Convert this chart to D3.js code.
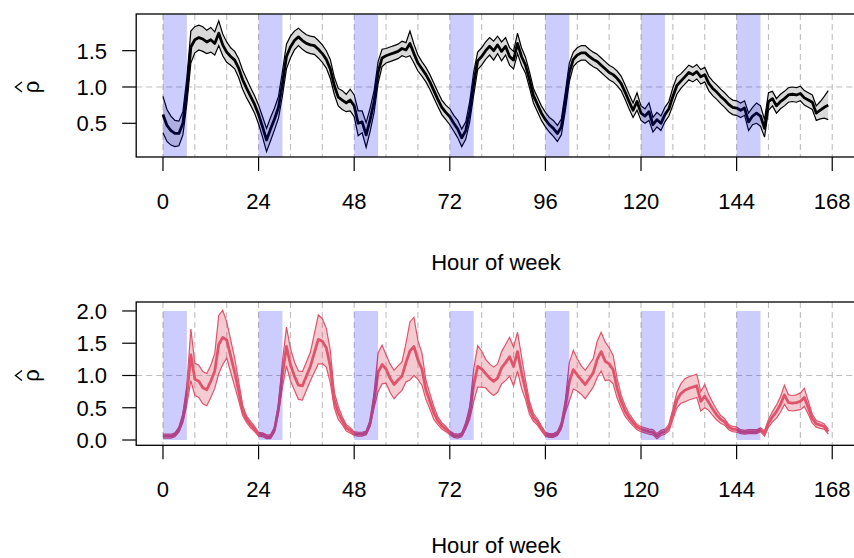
<!DOCTYPE html>
<html>
<head>
    <meta charset="utf-8">
    <title>Hour of week</title>
    <script src="https://d3js.org/d3.v7.min.js"></script>
    <style>
        body { margin: 0; background: #ffffff; }
        text { font-family: "Liberation Sans", Arial, sans-serif; fill: #000; }
    </style>
</head>
<body>
<div id="chart"></div>
<script>
    // ---- data (hour of week 0..167) ----
    const hours = d3.range(0, 168);
    const xTicks = [0, 24, 48, 72, 96, 120, 144, 168];
    const gridHours = d3.range(0, 169, 8);
    const nightStarts = [0, 24, 48, 72, 96, 120, 144];
    const nightLength = 6;
    const topTicks = [0.5, 1.0, 1.5];
    const bottomTicks = [0.0, 0.5, 1.0, 1.5, 2.0];

    // top panel: estimate and half width of the band
    const topMean = [
        0.62,0.47,0.40,0.36,0.36,0.50,0.95,1.55,1.65,1.68,1.66,1.62,
        1.65,1.60,1.74,1.58,1.48,1.42,1.37,1.26,1.10,0.98,0.87,0.76,
        0.62,0.45,0.27,0.42,0.56,0.72,1.05,1.42,1.55,1.64,1.69,1.64,
        1.60,1.58,1.57,1.52,1.46,1.38,1.25,1.02,0.86,0.82,0.78,0.82,
        0.74,0.50,0.52,0.34,0.55,0.80,1.20,1.40,1.43,1.45,1.47,1.49,
        1.53,1.51,1.60,1.46,1.33,1.25,1.17,1.07,0.95,0.83,0.72,0.65,
        0.59,0.50,0.42,0.30,0.40,0.66,1.05,1.36,1.42,1.50,1.56,1.50,
        1.58,1.49,1.56,1.42,1.37,1.60,1.42,1.30,1.10,0.88,0.76,0.64,
        0.55,0.48,0.43,0.36,0.45,0.80,1.20,1.38,1.44,1.47,1.47,1.42,
        1.38,1.35,1.30,1.25,1.20,1.17,1.12,1.05,0.93,0.80,0.68,0.80,
        0.64,0.60,0.66,0.48,0.55,0.50,0.62,0.70,0.87,1.02,1.08,1.14,
        1.20,1.17,1.21,1.14,1.17,1.05,0.98,0.93,0.87,0.82,0.76,0.72,
        0.71,0.68,0.71,0.52,0.60,0.64,0.60,0.43,0.80,0.84,0.74,0.80,
        0.84,0.89,0.90,0.89,0.91,0.85,0.82,0.79,0.64,0.68,0.72,0.75
    ];
    const topHalf = [
        0.25,0.22,0.20,0.18,0.17,0.16,0.18,0.22,0.18,0.17,0.17,0.16,
        0.17,0.16,0.17,0.15,0.14,0.12,0.12,0.13,0.13,0.13,0.12,0.12,
        0.13,0.14,0.16,0.16,0.15,0.15,0.17,0.17,0.15,0.13,0.12,0.12,
        0.12,0.12,0.12,0.12,0.12,0.12,0.13,0.12,0.12,0.13,0.12,0.15,
        0.15,0.17,0.15,0.17,0.16,0.15,0.15,0.12,0.10,0.10,0.10,0.10,
        0.10,0.10,0.17,0.13,0.11,0.10,0.10,0.10,0.10,0.10,0.10,0.10,
        0.11,0.11,0.12,0.12,0.12,0.14,0.16,0.12,0.12,0.12,0.12,0.13,
        0.12,0.13,0.12,0.12,0.12,0.14,0.12,0.11,0.11,0.10,0.10,0.10,
        0.10,0.10,0.11,0.11,0.11,0.13,0.13,0.10,0.10,0.10,0.10,0.10,
        0.10,0.10,0.10,0.10,0.10,0.10,0.10,0.10,0.10,0.10,0.10,0.12,
        0.10,0.10,0.12,0.10,0.10,0.10,0.10,0.10,0.12,0.12,0.10,0.10,
        0.10,0.10,0.10,0.10,0.10,0.10,0.10,0.10,0.10,0.10,0.10,0.10,
        0.10,0.10,0.10,0.12,0.12,0.14,0.14,0.12,0.12,0.10,0.10,0.10,
        0.10,0.10,0.10,0.10,0.10,0.10,0.10,0.10,0.10,0.12,0.15,0.20
    ];

    // bottom panel: estimate and half width of the band
    const bottomMean = [
        0.06,0.06,0.06,0.08,0.16,0.34,0.70,1.32,0.94,0.91,0.81,0.78,
        0.91,1.07,1.48,1.59,1.55,1.30,1.05,0.76,0.46,0.32,0.24,0.17,
        0.09,0.08,0.05,0.05,0.16,0.49,1.02,1.45,1.17,0.99,0.85,0.84,
        0.99,1.14,1.35,1.56,1.53,1.43,1.14,0.62,0.42,0.30,0.19,0.15,
        0.10,0.09,0.09,0.11,0.26,0.62,1.05,1.17,1.10,0.96,0.86,0.93,
        0.99,1.20,1.38,1.45,1.24,1.10,0.78,0.60,0.42,0.30,0.22,0.17,
        0.11,0.07,0.06,0.08,0.22,0.42,0.85,1.14,1.10,1.03,0.96,0.91,
        0.96,1.12,1.20,1.29,1.14,1.37,1.05,0.78,0.50,0.35,0.28,0.18,
        0.09,0.07,0.07,0.10,0.22,0.52,0.90,1.09,1.01,0.93,0.86,0.95,
        1.04,1.25,1.37,1.22,1.18,1.09,0.80,0.60,0.45,0.35,0.27,0.20,
        0.17,0.15,0.13,0.12,0.06,0.11,0.13,0.19,0.40,0.62,0.72,0.77,
        0.80,0.82,0.84,0.60,0.68,0.58,0.48,0.39,0.32,0.28,0.20,0.17,
        0.16,0.13,0.12,0.13,0.13,0.13,0.16,0.10,0.26,0.36,0.44,0.55,
        0.70,0.58,0.57,0.58,0.60,0.66,0.50,0.33,0.25,0.23,0.21,0.13
    ];
    const bottomHalf = [
        0.03,0.03,0.03,0.03,0.04,0.07,0.15,0.40,0.25,0.25,0.25,0.25,
        0.25,0.27,0.45,0.42,0.28,0.25,0.22,0.15,0.08,0.05,0.05,0.04,
        0.03,0.03,0.03,0.03,0.04,0.08,0.20,0.30,0.25,0.22,0.22,0.22,
        0.22,0.22,0.30,0.38,0.35,0.30,0.25,0.12,0.10,0.06,0.05,0.04,
        0.03,0.03,0.03,0.03,0.05,0.12,0.30,0.30,0.22,0.22,0.22,0.22,
        0.22,0.30,0.45,0.45,0.30,0.25,0.15,0.12,0.10,0.06,0.05,0.04,
        0.03,0.03,0.03,0.03,0.05,0.10,0.25,0.32,0.28,0.22,0.22,0.22,
        0.22,0.25,0.28,0.30,0.30,0.30,0.25,0.15,0.10,0.06,0.05,0.04,
        0.03,0.03,0.03,0.03,0.05,0.10,0.30,0.30,0.25,0.22,0.22,0.22,
        0.22,0.28,0.30,0.30,0.25,0.22,0.15,0.10,0.08,0.06,0.05,0.04,
        0.04,0.04,0.04,0.04,0.04,0.04,0.04,0.05,0.08,0.12,0.15,0.18,
        0.18,0.18,0.18,0.15,0.18,0.12,0.10,0.08,0.06,0.05,0.04,0.04,
        0.04,0.03,0.03,0.03,0.03,0.03,0.03,0.04,0.06,0.08,0.10,0.12,
        0.15,0.12,0.12,0.12,0.13,0.14,0.10,0.07,0.05,0.05,0.04,0.04
    ];

    // ---- layout ----
    const width = 854, height = 558;
    const fontSize = 22;

    const svg = d3.select("#chart").append("svg")
        .attr("width", width)
        .attr("height", height);

    // x axis spans the week with R-style 4% padding
    const x = d3.scaleLinear().domain([-6.72, 174.72]).range([136.2, 859]);

    const panels = [
        {mean: topMean, half: topHalf, ticks: topTicks, yDomain: [0.036, 2.005],
         top: 14, bottom: 157, title: 262, stroke: "#000000", fill: "#dadada", fillOpacity: 1},
        {mean: bottomMean, half: bottomHalf, ticks: bottomTicks, yDomain: [-0.082, 2.139],
         top: 302, bottom: 445.3, title: 545, stroke: "#DF536B", fill: "#DF536B", fillOpacity: 0.3}
    ];

    panels.forEach(function (p, i) {
        const y = d3.scaleLinear().domain(p.yDomain).range([p.bottom, p.top]);
        const rows = hours.map(h => ({
            h: h,
            m: p.mean[h],
            lo: p.mean[h] - p.half[h],
            hi: p.mean[h] + p.half[h]
        }));

        // clip to the plot region
        const clipId = "clip" + i;
        svg.append("clipPath").attr("id", clipId)
            .append("rect")
            .attr("x", x.range()[0]).attr("y", p.top)
            .attr("width", x.range()[1] - x.range()[0])
            .attr("height", p.bottom - p.top);

        const g = svg.append("g").attr("clip-path", `url(#${clipId})`);

        // dashed reference lines
        g.selectAll("line.v")
            .data(gridHours)
            .join("line")
            .attr("x1", d => x(d)).attr("x2", d => x(d))
            .attr("y1", p.top).attr("y2", p.bottom)
            .attr("stroke", "#bebebe").attr("stroke-width", 1.1)
            .attr("stroke-dasharray", "6,4");
        g.append("line")
            .attr("x1", x.range()[0]).attr("x2", x.range()[1])
            .attr("y1", y(1)).attr("y2", y(1))
            .attr("stroke", "#bebebe").attr("stroke-width", 1.1)
            .attr("stroke-dasharray", "6,4");

        // confidence band
        const area = d3.area()
            .x(d => x(d.h))
            .y0(d => y(d.lo))
            .y1(d => y(d.hi));
        g.append("path")
            .datum(rows)
            .attr("d", area)
            .attr("fill", p.fill)
            .attr("fill-opacity", p.fillOpacity);

        const lineOf = key => d3.line().x(d => x(d.h)).y(d => y(d[key]));
        ["lo", "hi"].forEach(function (k) {
            g.append("path")
                .datum(rows)
                .attr("d", lineOf(k))
                .attr("fill", "none")
                .attr("stroke", p.stroke)
                .attr("stroke-width", 1.2);
        });
        g.append("path")
            .datum(rows)
            .attr("d", lineOf("m"))
            .attr("fill", "none")
            .attr("stroke", p.stroke)
            .attr("stroke-width", 2.8)
            .attr("stroke-linejoin", "round");

        // night hours shaded on top
        g.selectAll("rect.night")
            .data(nightStarts)
            .join("rect")
            .attr("x", d => x(d))
            .attr("width", d => x(d + nightLength) - x(d))
            .attr("y", y(2))
            .attr("height", y(0) - y(2))
            .attr("fill", "blue")
            .attr("fill-opacity", 0.2);

        // box
        svg.append("rect")
            .attr("x", x.range()[0]).attr("y", p.top)
            .attr("width", x.range()[1] - x.range()[0])
            .attr("height", p.bottom - p.top)
            .attr("fill", "none")
            .attr("stroke", "#000").attr("stroke-width", 1.3);

        // y axis
        const yAxis = svg.append("g");
        yAxis.selectAll("line")
            .data(p.ticks)
            .join("line")
            .attr("x1", x.range()[0] - 14).attr("x2", x.range()[0])
            .attr("y1", d => y(d)).attr("y2", d => y(d))
            .attr("stroke", "#000").attr("stroke-width", 1.2);
        yAxis.selectAll("text")
            .data(p.ticks)
            .join("text")
            .attr("x", 107)
            .attr("y", d => y(d) + 8)
            .attr("text-anchor", "end")
            .attr("font-size", fontSize)
            .text(d3.format(".1f"));

        // x axis
        const xAxis = svg.append("g");
        xAxis.selectAll("line")
            .data(xTicks)
            .join("line")
            .attr("x1", d => x(d)).attr("x2", d => x(d))
            .attr("y1", p.bottom).attr("y2", p.bottom + 14)
            .attr("stroke", "#000").attr("stroke-width", 1.2);
        xAxis.selectAll("text")
            .data(xTicks)
            .join("text")
            .attr("x", d => x(d))
            .attr("y", p.bottom + 52)
            .attr("text-anchor", "middle")
            .attr("font-size", fontSize)
            .text(d => d);

        // axis titles
        svg.append("text")
            .attr("x", 496)
            .attr("y", p.title)
            .attr("dominant-baseline", "central")
            .attr("text-anchor", "middle")
            .attr("font-size", fontSize)
            .text("Hour of week");

        // rho with a hat, rotated like an R ylab
        const yl = svg.append("g")
            .attr("transform", `translate(39, ${y(1)}) rotate(-90)`);
        yl.append("text")
            .attr("text-anchor", "middle")
            .attr("font-size", fontSize)
            .text("\u03C1");
        yl.append("path")
            .attr("d", "M-5,-17 L0,-23.5 L5,-17")
            .attr("fill", "none")
            .attr("stroke", "#000")
            .attr("stroke-width", 1.4);
    });
</script>
</body>
</html>
